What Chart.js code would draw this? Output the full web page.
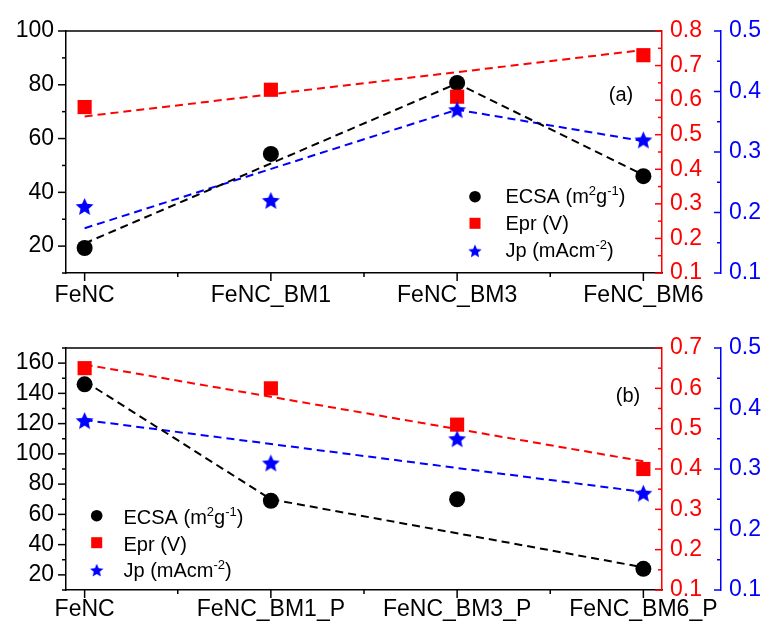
<!DOCTYPE html>
<html>
<head>
<meta charset="utf-8">
<script src="https://cdn.jsdelivr.net/npm/chart.js@4.4.0/dist/chart.umd.min.js"></script>
<style>
  body { margin: 0; background: #fff; }
  #wrap { position: relative; width: 766px; height: 626px; }
  #wrap canvas { position: absolute; left: 0; }
</style>
</head>
<body>
<div id="wrap">
  <canvas id="chartA" width="766" height="313" style="top:0px"></canvas>
  <canvas id="chartB" width="766" height="313" style="top:313px"></canvas>
</div>
<script>
// ---- data ----
const categoriesA = ['FeNC', 'FeNC_BM1', 'FeNC_BM3', 'FeNC_BM6']
const categoriesB = ['FeNC', 'FeNC_BM1_P', 'FeNC_BM3_P', 'FeNC_BM6_P']

const ecsaA = [19.3, 54.3, 80.7, 46]
const eprA = [0.58, 0.63, 0.61, 0.73]
const jpA = [0.21, 0.22, 0.37, 0.32]

// dashed guide lines, [category position, value]
const ecsaLineA = [[1, 21], [3, 80.5], [4, 46.5]]
const eprLineA = [[1, 0.553], [4, 0.745]]
const jpLineA = [[1, 0.174], [3, 0.37], [4, 0.318]]

const ecsaB = [146, 69, 70, 24]
const eprB = [0.65, 0.60, 0.51, 0.40]
const jpB = [0.38, 0.31, 0.35, 0.26]

const ecsaLineB = [[1, 148], [2, 70], [4, 25]]
const eprLineB = [[1, 0.659], [4, 0.419]]
const jpLineB = [[1, 0.381], [4, 0.262]]

// axes
const leftRangeA = [10, 100]
const leftRangeB = [10, 170]
const leftTicksA = [20, 40, 60, 80, 100]
const leftTicksB = [20, 40, 60, 80, 100, 120, 140, 160]
const eprRangeA = [0.1, 0.8]
const eprRangeB = [0.1, 0.7]
const eprTicksA = [0.1, 0.2, 0.3, 0.4, 0.5, 0.6, 0.7, 0.8]
const eprTicksB = [0.1, 0.2, 0.3, 0.4, 0.5, 0.6, 0.7]
const jpRange = [0.1, 0.5]
const jpTicks = [0.1, 0.2, 0.3, 0.4, 0.5]
const xMajor = [1, 2, 3, 4]

const legendLabels = [
  [['ECSA (m', 0], ['2', 1], ['g', 0], ['-1', 1], [')', 0]],
  [['Epr (V)', 0]],
  [['Jp (mAcm', 0], ['-2', 1], [')', 0]]
]

const FONT = '"Liberation Sans", Arial, sans-serif'
const RED = '#ff0000'
const BLUE = '#0000ff'
const BLACK = '#000000'

function makeStar(R, color) {
  const c = document.createElement('canvas')
  const s = Math.ceil(R * 2 + 2)
  c.width = s
  c.height = s
  const g = c.getContext('2d')
  g.fillStyle = color
  g.beginPath()
  for (let i = 0; i < 10; i++) {
    const r = i % 2 ? R * 0.46 : R
    const a = -Math.PI / 2 + i * Math.PI / 5
    g.lineTo(s / 2 + r * Math.cos(a), s / 2 + 0.8 + r * Math.sin(a))
  }
  g.closePath()
  g.fill()
  return c
}
const starBig = makeStar(9.4, BLUE)
const starSmall = makeStar(7, BLUE)

function seg(ctx, x1, y1, x2, y2) {
  ctx.beginPath()
  ctx.moveTo(x1, y1)
  ctx.lineTo(x2, y2)
  ctx.stroke()
}

// major + minor tick pixels of a scale
function tickSet(scale, majors, step, from, to) {
  const lo = from !== undefined ? from : scale.min
  const hi = to !== undefined ? to : scale.max
  const out = []
  const k0 = Math.ceil(lo / step - 1e-6)
  for (let k = k0; k * step <= hi + 1e-6; k++) {
    const v = k * step
    const major = majors.some(m => Math.abs(m - v) < step / 10)
    out.push([scale.getPixelForValue(v), major])
  }
  return out
}

function drawRich(ctx, parts, x, y) {
  for (const [t, sup] of parts) {
    ctx.font = (sup ? '13px ' : '20px ') + FONT
    ctx.fillText(t, x, sup ? y - 8 : y)
    x += ctx.measureText(t).width
  }
}

function overlay(p) {
  return {
    id: 'overlay',
    afterDraw(chart) {
      const ctx = chart.ctx
      const a = chart.chartArea
      const { x, y, yR, yB } = chart.scales
      ctx.save()
      ctx.lineWidth = 1.5
      ctx.strokeStyle = BLACK
      seg(ctx, a.left, a.top, a.right, a.top)
      for (const [px, major] of tickSet(x, xMajor, 0.5, 1, 4)) seg(ctx, px, a.bottom, px, a.bottom + (major ? 8 : 4))
      for (const [py, major] of tickSet(y, p.leftTicks, 10)) seg(ctx, a.left, py, a.left - (major ? 8 : 4), py)
      ctx.strokeStyle = RED
      for (const [py, major] of tickSet(yR, p.eprTicks, 0.05)) seg(ctx, a.right, py, a.right - (major ? 7 : 4), py)
      ctx.strokeStyle = BLUE
      for (const [py, major] of tickSet(yB, jpTicks, 0.05)) seg(ctx, yB.left, py, yB.left - (major ? 7 : 4), py)

      // legend
      const L = p.legend
      ctx.fillStyle = BLACK
      ctx.beginPath()
      ctx.arc(L.mx, L.my[0], 5.8, 0, Math.PI * 2)
      ctx.fill()
      ctx.fillStyle = RED
      ctx.fillRect(L.mx - 5.5, L.my[1] - 5.5, 11, 11)
      ctx.drawImage(starSmall, L.mx - starSmall.width / 2, L.my[2] - starSmall.height / 2)
      ctx.fillStyle = BLACK
      ctx.textBaseline = 'alphabetic'
      ctx.textAlign = 'left'
      legendLabels.forEach((parts, i) => drawRich(ctx, parts, L.tx, L.ty[i]))

      // panel label
      ctx.font = '20px ' + FONT
      ctx.textAlign = 'center'
      ctx.fillText(p.tag, p.tagX, p.tagY)
      ctx.restore()
    }
  }
}

function toPoints(values) {
  return values.map((v, i) => ({ x: i + 1, y: v }))
}
function toLine(pairs) {
  return pairs.map(([x, y]) => ({ x: x, y: y }))
}

function makePanel(id, p) {
  const tickFont = { family: FONT, size: 23 }
  const lineStyle = { showLine: true, pointRadius: 0, borderWidth: 2, borderDash: [8, 5], fill: false, order: 3 }
  return new Chart(document.getElementById(id), {
    type: 'scatter',
    data: {
      datasets: [
        { label: 'Jp', data: toPoints(p.jp), yAxisID: 'yB', pointStyle: starBig, pointRadius: 9, order: 0 },
        { label: 'Epr', data: toPoints(p.epr), yAxisID: 'yR', pointStyle: 'rect', pointRadius: 10,
          backgroundColor: RED, borderWidth: 0, order: 1 },
        { label: 'ECSA', data: toPoints(p.ecsa), yAxisID: 'y', pointStyle: 'circle', pointRadius: 8,
          backgroundColor: BLACK, borderWidth: 0, order: 2 },
        Object.assign({ data: toLine(p.ecsaLine), yAxisID: 'y', borderColor: BLACK }, lineStyle),
        Object.assign({ data: toLine(p.eprLine), yAxisID: 'yR', borderColor: RED }, lineStyle),
        Object.assign({ data: toLine(p.jpLine), yAxisID: 'yB', borderColor: BLUE }, lineStyle)
      ]
    },
    options: {
      responsive: false,
      animation: false,
      events: [],
      layout: { padding: { top: p.top, left: 0, right: 0, bottom: 0 } },
      plugins: { legend: { display: false }, tooltip: { enabled: false } },
      scales: {
        x: {
          type: 'linear', position: 'bottom', min: 0.9, max: 4.1,
          afterBuildTicks: s => { s.ticks = xMajor.map(v => ({ value: v })) },
          afterFit: s => { s.height = p.xHeight },
          ticks: { callback: v => p.cats[v - 1], font: tickFont, color: BLACK, padding: p.xPad, maxRotation: 0, autoSkip: false },
          grid: { display: true, drawOnChartArea: false, drawTicks: false },
          border: { color: BLACK, width: 1.5 }
        },
        y: {
          position: 'left', min: p.leftRange[0], max: p.leftRange[1],
          afterBuildTicks: s => { s.ticks = p.leftTicks.map(v => ({ value: v })) },
          afterFit: s => { s.width = 66 },
          ticks: { font: tickFont, color: BLACK, padding: 12 },
          grid: { display: true, drawOnChartArea: false, drawTicks: false },
          border: { color: BLACK, width: 1.5 }
        },
        yR: {
          position: 'right', weight: 0, min: p.eprRange[0], max: p.eprRange[1],
          afterBuildTicks: s => { s.ticks = p.eprTicks.map(v => ({ value: v })) },
          afterFit: s => { s.width = 59 },
          ticks: { callback: v => v.toFixed(1), font: tickFont, color: RED, padding: 8 },
          grid: { display: true, drawOnChartArea: false, drawTicks: false },
          border: { color: RED, width: 1.5 }
        },
        yB: {
          position: 'right', weight: 1, min: jpRange[0], max: jpRange[1],
          afterBuildTicks: s => { s.ticks = jpTicks.map(v => ({ value: v })) },
          afterFit: s => { s.width = 45 },
          ticks: { callback: v => v.toFixed(1), font: tickFont, color: BLUE, padding: 8 },
          grid: { display: true, drawOnChartArea: false, drawTicks: false },
          border: { color: BLUE, width: 1.5 }
        }
      }
    },
    plugins: [overlay(p)]
  })
}

makePanel('chartA', {
  cats: categoriesA, ecsa: ecsaA, epr: eprA, jp: jpA,
  ecsaLine: ecsaLineA, eprLine: eprLineA, jpLine: jpLineA,
  leftRange: leftRangeA, leftTicks: leftTicksA, eprRange: eprRangeA, eprTicks: eprTicksA,
  top: 31, xHeight: 40, xPad: 9,
  legend: { mx: 475, my: [196.7, 223.3, 250.7], tx: 505.5, ty: [203.3, 229.5, 256.5] },
  tag: '(a)', tagX: 621, tagY: 101
})

makePanel('chartB', {
  cats: categoriesB, ecsa: ecsaB, epr: eprB, jp: jpB,
  ecsaLine: ecsaLineB, eprLine: eprLineB, jpLine: jpLineB,
  leftRange: leftRangeB, leftTicks: leftTicksB, eprRange: eprRangeB, eprTicks: eprTicksB,
  top: 35, xHeight: 36, xPad: 6,
  legend: { mx: 96.7, my: [202.7, 229.7, 257], tx: 123.5, ty: [211, 237.7, 264.3] },
  tag: '(b)', tagX: 628, tagY: 88.5
})
</script>
</body>
</html>
